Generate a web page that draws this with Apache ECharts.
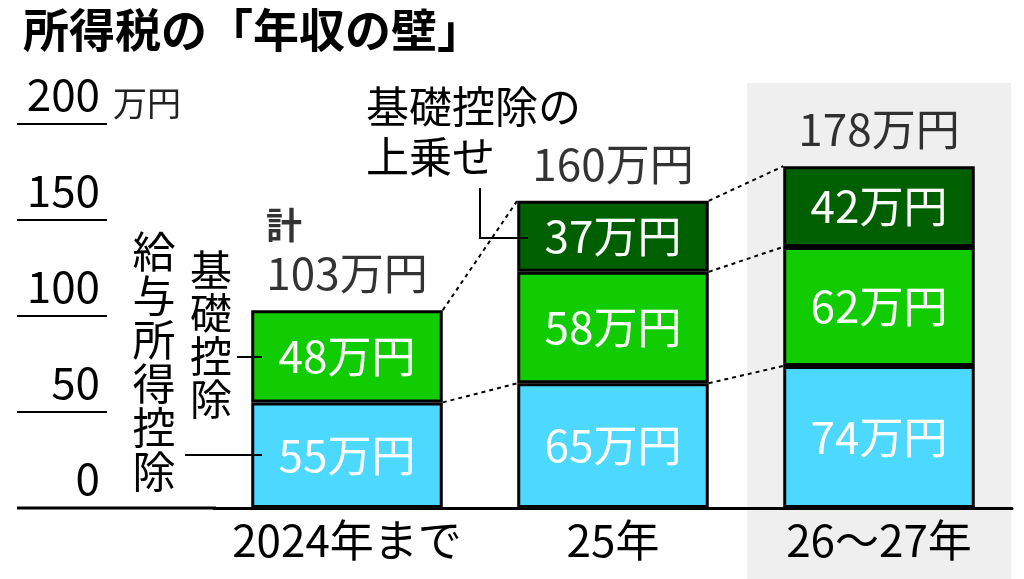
<!DOCTYPE html>
<html>
<head>
<meta charset="utf-8">
<title>所得税の「年収の壁」</title>
<script src="https://cdn.jsdelivr.net/npm/echarts@6/dist/echarts.min.js"></script>
<style>
    html, body { margin: 0; padding: 0; background: #fff; }
    #main { width: 1024px; height: 579px; }
</style>
</head>
<body>
<div id="main"></div>
<script>
// データ（万円）
var categories = ['2024年まで', '25年', '26〜27年'];
var kyuyo = [55, 65, 74];        // 給与所得控除
var kiso = [48, 58, 62];         // 基礎控除
var uwanose = [null, 37, 42];    // 基礎控除の上乗せ
var totals = [103, 160, 178];
var yTicks = [0, 50, 100, 150, 200];
// 点線でつなぐ段: [左の棒, 下から何段目の上端か]
var links = [[0, 1], [0, 3], [1, 1], [1, 2], [1, 3]];

var FONT = "'Noto Sans CJK JP', sans-serif";
var BAR_RATIO = 0.72;

function cum(i, level) {
    var segs = [kyuyo[i], kiso[i], uwanose[i]];
    var s = 0;
    for (var k = 0; k < level; k++) s += (segs[k] || 0);
    return s;
}

function segLabel() {
    return {
        show: true, position: 'inside', color: '#fff',
        fontSize: 44, fontFamily: FONT,
        formatter: function (p) { return p.value + '万円'; }
    };
}

var myChart = echarts.init(document.getElementById('main'));

var option = {
    backgroundColor: '#fff',
    animation: false,
    title: {
        text: '所得税の「年収の壁」',
        left: 18, top: 2,
        textStyle: { fontSize: 46, fontWeight: 'bold', color: '#000', fontFamily: FONT }
    },
    grid: [
        { left: 214, right: 12, top: 124, bottom: 71 },
        { left: 17, width: 90, top: 124, bottom: 71 }
    ],
    xAxis: [
        {
            type: 'category', data: categories, gridIndex: 0, z: 5,
            axisLine: { lineStyle: { color: '#000', width: 3 } },
            axisTick: { show: false },
            axisLabel: { interval: 0, fontSize: 44, color: '#000', fontFamily: FONT, margin: 10 }
        },
        { type: 'category', data: [''], gridIndex: 1, show: false }
    ],
    yAxis: [
        { type: 'value', min: 0, max: 200, interval: 50, gridIndex: 0, show: false },
        {
            type: 'value', min: 0, max: 200, interval: 50, gridIndex: 1,
            position: 'right',
            axisLine: { show: false }, axisTick: { show: false },
            splitLine: { show: true, lineStyle: { color: '#000', width: 2 } },
            axisLabel: {
                inside: true, margin: 7, verticalAlign: 'bottom',
                padding: [0, 0, 8, 0],
                fontSize: 44, color: '#000', fontFamily: FONT,
                formatter: function (v) { return yTicks.indexOf(v) >= 0 ? String(v) : ''; }
            }
        }
    ],
    series: [
        {
            // 26〜27年の背景
            type: 'custom', z: -1, silent: true, clip: false,
            data: [[2, 0]],
            renderItem: function (params, api) {
                var c = api.coord([api.value(0), 0]);
                var w = api.size([1, 0])[0];
                return {
                    type: 'rect',
                    shape: { x: c[0] - w / 2 + 1, y: 83, width: w - 2, height: api.getHeight() - 83 },
                    style: { fill: '#efefef' }
                };
            }
        },
        {
            name: '給与所得控除', type: 'bar', stack: 'a', data: kyuyo,
            barWidth: (BAR_RATIO * 100) + '%',
            itemStyle: { color: '#4dd9ff', borderColor: '#000', borderWidth: 3 },
            label: segLabel()
        },
        {
            name: '基礎控除', type: 'bar', stack: 'a', data: kiso,
            itemStyle: { color: '#10cc00', borderColor: '#000', borderWidth: 3 },
            label: segLabel()
        },
        {
            name: '基礎控除の上乗せ', type: 'bar', stack: 'a', data: uwanose,
            itemStyle: { color: '#006000', borderColor: '#000', borderWidth: 3 },
            label: segLabel()
        },
        {
            // 点線
            type: 'custom', z: 3, silent: true, clip: false,
            data: links,
            renderItem: function (params, api) {
                var i = api.value(0), lv = api.value(1);
                var half = api.size([1, 0])[0] * BAR_RATIO / 2;
                var p0 = api.coord([i, cum(i, lv)]);
                var p1 = api.coord([i + 1, cum(i + 1, lv)]);
                return {
                    type: 'line',
                    shape: { x1: p0[0] + half, y1: p0[1], x2: p1[0] - half, y2: p1[1] },
                    style: { stroke: '#000', lineWidth: 2, lineDash: [4, 4] }
                };
            }
        },
        {
            // 合計
            type: 'scatter', data: totals, symbolSize: 0, z: 6, silent: true,
            itemStyle: { color: 'transparent' },
            label: {
                show: true, position: 'top', distance: 12, color: '#000', fontFamily: FONT,
                formatter: function (p) {
                    var t = '{v|' + p.value + '万円}';
                    return p.dataIndex === 0 ? '{k|計}\n' + t : t;
                },
                rich: {
                    k: { fontSize: 36, fontWeight: 'bold', width: 162, align: 'left', lineHeight: 46, fontFamily: FONT, color: '#000' },
                    v: { fontSize: 44, lineHeight: 50, fontFamily: FONT, color: '#000' }
                }
            }
        }
    ],
    graphic: [
        { type: 'text', left: 113, top: 86, z: 10,
          style: { text: '万円', fontSize: 34, fill: '#222', fontFamily: FONT } },
        { type: 'line', z: 10, shape: { x1: 17, y1: 508, x2: 216, y2: 508 },
          style: { stroke: '#000', lineWidth: 3 } },
        // 給与所得控除
        { type: 'text', x: 154, y: 230, z: 10,
          style: { text: '給\n与\n所\n得\n控\n除', fontSize: 43, lineHeight: 44, align: 'center',
                   fill: '#000', fontFamily: FONT } },
        { type: 'line', z: 10, shape: { x1: 185, y1: 455, x2: 262, y2: 455 },
          style: { stroke: '#000', lineWidth: 2 } },
        // 基礎控除
        { type: 'text', x: 211, y: 249, z: 10,
          style: { text: '基\n礎\n控\n除', fontSize: 42, lineHeight: 43, align: 'center',
                   fill: '#000', fontFamily: FONT } },
        { type: 'line', z: 10, shape: { x1: 237, y1: 357, x2: 262, y2: 357 },
          style: { stroke: '#000', lineWidth: 2 } },
        // 基礎控除の上乗せ
        { type: 'text', x: 366, y: 82, z: 10,
          style: { text: '基礎控除の\n上乗せ', fontSize: 43, lineHeight: 50,
                   fill: '#000', fontFamily: FONT } },
        { type: 'polyline', z: 10, shape: { points: [[480, 188], [480, 238], [528, 238]] },
          style: { stroke: '#000', lineWidth: 2, fill: null } }
    ]
};

myChart.setOption(option);
</script>
</body>
</html>
